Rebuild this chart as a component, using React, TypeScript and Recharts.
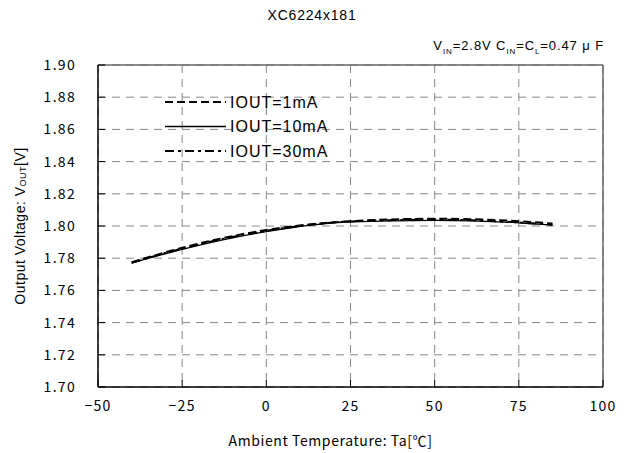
import React from "react";
import { LineChart, Line, XAxis, YAxis, CartesianGrid, ReferenceLine } from "recharts";

const temps = [-40, -25, 0, 25, 50, 75, 85];
const iout1mA = [1.7775, 1.7865, 1.7975, 1.803, 1.8045, 1.803, 1.8015];
const iout10mA = [1.777, 1.7855, 1.7965, 1.8025, 1.8035, 1.802, 1.8005];
const iout30mA = [1.7772, 1.786, 1.797, 1.8028, 1.804, 1.8022, 1.8008];
const xTicks = [-50, -25, 0, 25, 50, 75, 100];
const yTicks = [1.7, 1.72, 1.74, 1.76, 1.78, 1.8, 1.82, 1.84, 1.86, 1.88, 1.9];
const seriesNames = ["IOUT=1mA", "IOUT=10mA", "IOUT=30mA"];

const data = temps.map((t, i) => ({ t, a: iout1mA[i], b: iout10mA[i], c: iout30mA[i] }));

const FONT = "'Noto Sans CJK JP', 'DejaVu Sans', sans-serif";
const SANS = "'Liberation Sans', Arial, sans-serif";
const Y_MARGIN = 22;
const X_MARGIN = 14;

const YTick = (props: any) => {
  const { x, y, payload } = props;
  const ax = x + Y_MARGIN;
  return (
    <g>
      <line x1={ax} x2={ax + 7} y1={y} y2={y} stroke="#000" strokeWidth={1} />
      <text x={x} y={y} dy="0.35em" textAnchor="end" fontSize={14} letterSpacing={1.3} fontFamily={FONT} fill="#000">
        {Number(payload.value).toFixed(2)}
      </text>
    </g>
  );
};

const XTick = (props: any) => {
  const { x, y, payload } = props;
  const ay = y - X_MARGIN;
  const v = Number(payload.value);
  return (
    <g>
      <line x1={x} x2={x} y1={ay} y2={ay - 7} stroke="#000" strokeWidth={1} />
      <text x={x} y={y} dy="0.71em" textAnchor="middle" fontSize={14} letterSpacing={1.3} fontFamily={FONT} fill="#000">
        {v < 0 ? "\u2212" + Math.abs(v) : String(v)}
      </text>
    </g>
  );
};

const YLabel = (props: any) => {
  const vb = props.viewBox || {};
  const cx = vb.x - 18;
  const cy = vb.y + vb.height / 2;
  return (
    <text x={cx} y={cy} transform={`rotate(-90 ${cx} ${cy})`} textAnchor="middle" dominantBaseline="central" fontSize={14} letterSpacing={0.5} fontFamily={SANS} fill="#000">
      <tspan>Output Voltage: V</tspan>
      <tspan fontSize={9} dy={3}>OUT</tspan>
      <tspan dy={-3}>[V]</tspan>
    </text>
  );
};

const XLabel = (props: any) => {
  const vb = props.viewBox || {};
  const cx = vb.x + vb.width / 2 - 20;
  const cy = vb.y + 53;
  return (
    <text x={cx} y={cy} textAnchor="middle" dominantBaseline="central" fontSize={14} letterSpacing={0.6} fontFamily={FONT} fill="#000">
      Ambient Temperature: Ta[℃]
    </text>
  );
};

const dashes = ["8 4", undefined, "9 4 3 4"];
const widths = [2, 1.3, 2];

export default function App() {
  return (
    <div style={{ position: "relative", width: 617, height: 445 }}>
      <div style={{ position: "absolute", top: -1, left: 0, width: 608, textAlign: "center", fontSize: 14, letterSpacing: 0.8, fontFamily: SANS, lineHeight: "16px" }}>
        XC6224x181
      </div>
      <div style={{ position: "absolute", top: 30, right: 21, fontSize: 13, letterSpacing: 0.9, fontFamily: SANS, lineHeight: "16px", whiteSpace: "nowrap" }}>
        V<sub style={{ fontSize: 8 }}>IN</sub>=2.8V C<sub style={{ fontSize: 8 }}>IN</sub>=C<sub style={{ fontSize: 8 }}>L</sub>=0.47 μ F
      </div>
      <svg width={200} height={70} style={{ position: "absolute", left: 157, top: 84, zIndex: 2 }}>
        {seriesNames.map((n, i) => (
          <g key={n}>
            <line x1={0} x2={61} y1={10 + i * 24.5} y2={10 + i * 24.5} stroke="#000" strokeWidth={widths[i]} strokeDasharray={dashes[i]} />
            <text x={65} y={10 + i * 24.5} dominantBaseline="central" fontSize={16} letterSpacing={1} fontFamily={SANS} fill="#000">{n}</text>
          </g>
        ))}
      </svg>
      <LineChart width={617} height={445} data={data} margin={{ top: 57, right: 22, bottom: 36, left: 30 }}>
        <CartesianGrid stroke="#888" strokeDasharray="8 6" horizontalValues={yTicks} verticalValues={xTicks} />
        <XAxis
          dataKey="t"
          type="number"
          domain={[-50, 100]}
          ticks={xTicks}
          height={30}
          tickSize={0}
          tickMargin={X_MARGIN}
          tick={<XTick />}
          axisLine={{ stroke: "#000", strokeWidth: 1.5 }}
          label={<XLabel />}
          interval={0}
        />
        <YAxis
          type="number"
          domain={[1.7, 1.9]}
          ticks={yTicks}
          width={60}
          tickSize={0}
          tickMargin={Y_MARGIN}
          tick={<YTick />}
          axisLine={{ stroke: "#000", strokeWidth: 1.5 }}
          label={<YLabel />}
          interval={0}
        />
        <ReferenceLine y={1.9} stroke="#666" strokeWidth={1.5} />
        <ReferenceLine x={100} stroke="#666" strokeWidth={1.5} />
        <Line type="monotone" dataKey="a" stroke="#000" strokeWidth={widths[0]} strokeDasharray={dashes[0]} dot={false} isAnimationActive={false} />
        <Line type="monotone" dataKey="b" stroke="#000" strokeWidth={widths[1]} dot={false} isAnimationActive={false} />
        <Line type="monotone" dataKey="c" stroke="#000" strokeWidth={widths[2]} strokeDasharray={dashes[2]} dot={false} isAnimationActive={false} />
      </LineChart>
    </div>
  );
}
